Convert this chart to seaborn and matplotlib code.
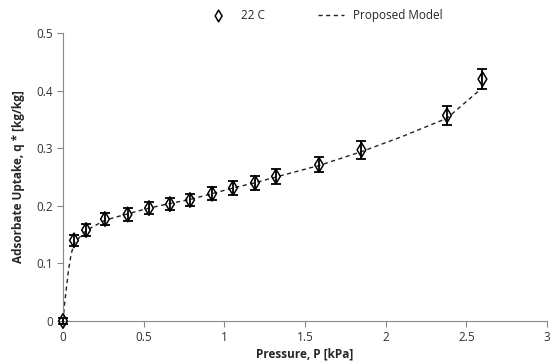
import matplotlib
matplotlib.use("Agg")
import matplotlib.pyplot as plt
import seaborn as sns
import numpy as np
import pandas as pd

pressure = [0.0, 0.068, 0.143, 0.26, 0.40, 0.533, 0.663, 0.787, 0.924, 1.054, 1.19, 1.32, 1.587, 1.85, 2.38, 2.60]
uptake = [0.0, 0.140, 0.158, 0.177, 0.185, 0.196, 0.203, 0.210, 0.221, 0.231, 0.240, 0.251, 0.271, 0.297, 0.357, 0.420]
err = [0.005, 0.010, 0.010, 0.011, 0.011, 0.011, 0.011, 0.011, 0.011, 0.012, 0.012, 0.013, 0.013, 0.015, 0.017, 0.018]

model_p = [0.0, 0.01, 0.02, 0.035, 0.05, 0.068, 0.143, 0.26, 0.40, 0.533, 0.663, 0.787, 0.924, 1.054, 1.19, 1.32, 1.587, 1.85, 2.10, 2.38, 2.60]
model_q = [0.0, 0.03, 0.055, 0.09, 0.115, 0.135, 0.157, 0.175, 0.186, 0.196, 0.204, 0.211, 0.221, 0.231, 0.240, 0.250, 0.270, 0.294, 0.320, 0.352, 0.405]

sns.set_style("white")
plt.rcParams['font.family'] = ['Open Sans', 'DejaVu Sans']

fig = plt.figure(figsize=(5.53, 3.62), dpi=100)
ax = fig.add_axes([63/553, 1 - 321/362, 484/553, 288/362])

df_model = pd.DataFrame({"P": model_p, "q": model_q})
df_data = pd.DataFrame({"P": pressure, "q": uptake})

sns.lineplot(data=df_model, x="P", y="q", ax=ax, color="#222222", linewidth=1.0,
             linestyle=(0, (3, 2.5)), label="Proposed Model", zorder=2)
ax.errorbar(pressure, uptake, yerr=err, fmt="none", ecolor="black", elinewidth=1.3,
            capsize=3.5, capthick=1.3, zorder=3, clip_on=False)
sc = sns.scatterplot(data=df_data, x="P", y="q", ax=ax, marker="d", s=55, facecolor="none",
                     edgecolor="black", linewidth=1.1, label="22 C", zorder=4, clip_on=False)

ax.set_xlim(0, 3)
ax.set_ylim(0, 0.5)
ax.set_xticks([0, 0.5, 1, 1.5, 2, 2.5, 3])
ax.set_xticklabels(["0", "0.5", "1", "1.5", "2", "2.5", "3"])
ax.set_yticks([0, 0.1, 0.2, 0.3, 0.4, 0.5])
ax.set_yticklabels(["0", "0.1", "0.2", "0.3", "0.4", "0.5"])
ax.tick_params(axis="both", direction="out", length=4, width=0.8, color="#888888",
               labelsize=8.5, labelcolor="#333333", bottom=True, left=True, pad=3)
for s in ["top", "right"]:
    ax.spines[s].set_visible(False)
for s in ["left", "bottom"]:
    ax.spines[s].set_color("#888888")
    ax.spines[s].set_linewidth(0.8)

ax.set_xlabel("Pressure, P [kPa]", fontsize=8.5, fontweight="bold", labelpad=3)
ax.set_ylabel("Adsorbate Uptake, q * [kg/kg]", fontsize=8.5, fontweight="bold", labelpad=8)

handles, labels = ax.get_legend_handles_labels()
order = [labels.index("22 C"), labels.index("Proposed Model")]
leg = ax.legend([handles[i] for i in order], [labels[i] for i in order], loc="upper center",
                bbox_to_anchor=(0.54, 1.12), ncol=2, frameon=False, fontsize=8.5,
                columnspacing=4.5, handlelength=2.2, markerscale=0.8)

fig.savefig("out.png", dpi=100)
